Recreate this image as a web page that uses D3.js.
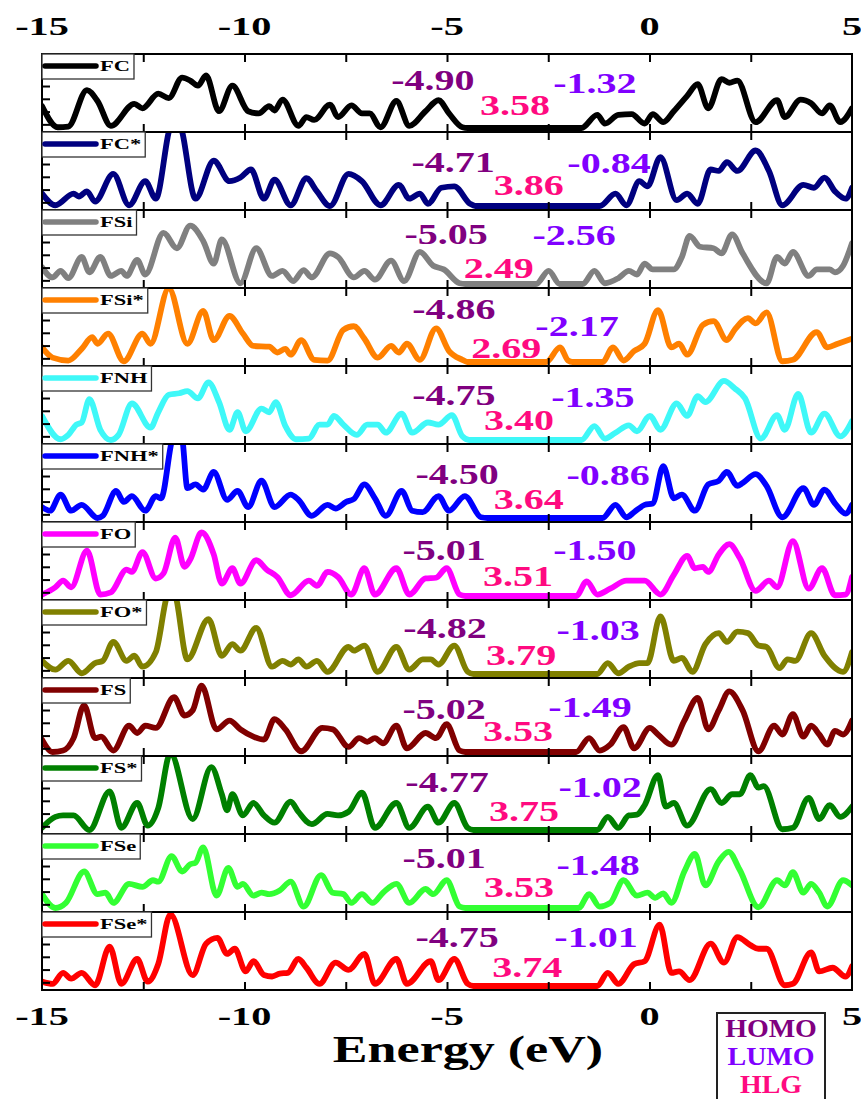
<!DOCTYPE html>
<html>
<head>
<meta charset="utf-8">
<script src="https://cdn.jsdelivr.net/npm/d3@7"></script>
<style>
  body { margin: 0; background: #fff; }
  svg { display: block; }
  text { font-family: "Liberation Serif", "Times New Roman", serif; font-weight: bold; }
</style>
</head>
<body>
<svg id="chart" width="861" height="1099"></svg>
<script>
// Total density of states (arb. units) against energy (eV) for each system
const dosFC = [[-15,3.0],[-14.61,0.1],[-14.35,0.2],[-13.89,5.2],[-13.63,3.7],[-13.30,0.3],[-12.72,3.3],[-12.52,2.7],[-12.13,4.7],[-11.87,4.1],[-11.54,6.9],[-11.34,6.5],[-11.15,5.8],[-10.95,7.2],[-10.63,2.3],[-10.30,5.8],[-9.91,2.3],[-9.65,2.0],[-9.39,3.0],[-9.26,2.4],[-9.06,3.9],[-8.67,0.3],[-8.47,1.5],[-8.28,1.1],[-7.89,3.2],[-7.69,1.5],[-7.36,3.1],[-7.10,2.0],[-6.91,2.0],[-6.64,0.1],[-6.25,3.7],[-5.93,0.3],[-5.53,2.3],[-5.21,3.8],[-4.95,2.0],[-4.62,0.1],[-4.49,0],[-1.68,0],[-1.29,1.8],[-1.10,0.6],[-0.77,1.8],[-0.44,1.9],[-0.12,0.6],[0.08,1.9],[0.34,0.8],[0.60,2.3],[0.93,4.4],[1.19,6.0],[1.45,2.7],[1.78,6.7],[1.97,6.2],[2.17,6.5],[2.62,0.8],[3.15,3.8],[3.34,1.5],[3.73,3.9],[3.99,3.4],[4.26,2.0],[4.45,3.1],[4.71,0.8],[5,2.7]];
const dosFCs = [[-15,1.7],[-14.67,0.1],[-14.22,1.7],[-14.09,1.3],[-13.89,2.0],[-13.69,0.6],[-13.24,4.4],[-12.85,0.1],[-12.45,3.4],[-12.19,1.0],[-11.8,11],[-11.61,11],[-11.21,1.0],[-10.76,6.2],[-10.37,3.4],[-10.10,3.9],[-9.84,5.0],[-9.52,1.0],[-9.26,3.6],[-8.86,0.1],[-8.47,3.8],[-8.21,2.0],[-7.89,0],[-7.43,4.4],[-7.10,3.4],[-6.64,0.1],[-6.19,2.9],[-5.93,1.0],[-5.67,1.7],[-5.47,0.3],[-5.14,2.5],[-4.82,2.7],[-4.43,0.3],[-4.30,0],[-1.23,0],[-0.84,1.7],[-0.57,0.1],[-0.25,3.4],[-0.05,2.7],[0.27,6.7],[0.67,0.8],[0.93,1.7],[1.19,0.3],[1.51,5.0],[1.71,4.8],[1.91,6.0],[2.17,4.8],[2.62,7.6],[2.95,4.8],[3.28,0.1],[3.80,2.9],[4.06,2.5],[4.32,3.9],[4.58,2.0],[4.84,1.0],[5,2.5]];
const dosFSi = [[-15,2.3],[-14.74,0.9],[-14.54,1.8],[-14.35,0.8],[-14.02,3.7],[-13.83,1.6],[-13.56,3.7],[-13.30,1.1],[-13.04,1.8],[-12.91,1.1],[-12.65,3.3],[-12.45,1.3],[-12.00,7.0],[-11.67,4.9],[-11.34,8.0],[-11.02,5.9],[-10.76,2.8],[-10.56,6.1],[-10.10,0.1],[-9.71,4.9],[-9.32,1.1],[-9.06,1.8],[-8.80,0.4],[-8.54,1.9],[-8.34,0.9],[-7.89,4.2],[-7.69,3.7],[-7.30,0.9],[-7.04,1.8],[-6.78,0.6],[-6.38,3.2],[-6.06,0.4],[-5.67,4.4],[-5.34,2.5],[-5.08,2.0],[-4.69,0.1],[-4.55,0],[-2.80,0],[-2.49,1.8],[-2.22,0],[-1.65,0],[-1.36,1.8],[-1.10,0.1],[-0.77,0.8],[-0.51,1.8],[-0.31,1.3],[-0.12,2.8],[0.08,2.0],[0.60,2.0],[0.80,3.7],[0.99,6.6],[1.25,5.1],[1.58,4.9],[1.78,4.2],[2.04,6.8],[2.30,4.2],[2.89,0.1],[3.15,3.7],[3.34,2.8],[3.54,4.4],[3.93,1.1],[4.13,2.0],[4.45,2.0],[4.58,1.6],[4.78,2.5],[5,5.6]];
const dosFSis = [[-15,2.0],[-14.74,0.6],[-14.35,0.2],[-14.02,1.8],[-13.76,3.4],[-13.63,2.5],[-13.37,3.9],[-12.98,0.1],[-12.52,3.9],[-12.32,2.5],[-11.87,10.1],[-11.41,2.5],[-11.02,7.0],[-10.76,3.0],[-10.37,6.3],[-10.04,3.9],[-9.78,2.2],[-9.39,2.1],[-9.19,1.3],[-8.99,1.8],[-8.86,1.0],[-8.60,3.0],[-8.28,0.3],[-7.95,0.2],[-7.56,4.4],[-7.30,4.9],[-7.04,3.2],[-6.71,0.6],[-6.38,2.2],[-6.19,1.3],[-5.99,2.5],[-5.67,0.3],[-5.27,4.6],[-4.95,1.5],[-4.62,0.3],[-4.5,0],[-2.55,0],[-2.21,2.0],[-2.01,0.2],[-1.90,0],[-1.16,0],[-0.90,2.0],[-0.64,0.2],[-0.38,1.5],[-0.12,2.5],[0.21,7.1],[0.54,2.0],[0.73,2.5],[0.93,1.0],[1.32,5.1],[1.58,5.6],[1.91,3.0],[2.10,4.4],[2.43,6.0],[2.62,5.3],[2.89,6.8],[3.28,0.1],[3.54,0.3],[4.13,4.1],[4.39,2.0],[4.65,2.5],[5,3.2]];
const dosFNH = [[-15,3.3],[-14.54,0.1],[-14.35,0.7],[-14.15,2.1],[-14.02,2.4],[-13.83,5.6],[-13.56,1.4],[-13.30,0],[-13.11,0.7],[-12.78,5.0],[-12.32,1.7],[-12.13,3.8],[-11.87,6.2],[-11.61,6.4],[-11.41,6.7],[-11.15,5.7],[-10.89,7.9],[-10.63,5.2],[-10.37,1.4],[-10.17,3.8],[-9.97,1.2],[-9.58,4.3],[-9.39,3.8],[-9.23,5.2],[-8.99,1.9],[-8.73,0.1],[-8.41,0.2],[-8.15,2.1],[-7.95,2.1],[-7.79,3.3],[-7.56,2.1],[-7.23,0.7],[-6.97,2.1],[-6.71,2.1],[-6.51,1.0],[-6.12,3.6],[-5.86,1.0],[-5.47,2.4],[-5.21,2.1],[-4.88,3.4],[-4.62,0.5],[-4.45,0],[-1.68,0],[-1.36,1.9],[-1.10,0.2],[-0.84,1.0],[-0.51,2.0],[-0.31,1.2],[0.01,3.3],[0.27,1.4],[0.67,5.0],[0.93,3.3],[1.19,6.0],[1.38,5.2],[1.84,8.1],[2.10,7.1],[2.36,5.7],[2.75,0.2],[3.15,3.4],[3.34,1.4],[3.67,6.3],[3.99,1.0],[4.32,3.6],[4.71,0.5],[5,2.6]];
const dosFNHs = [[-15,1.5],[-14.80,1.0],[-14.54,3.2],[-14.28,1.0],[-14.02,1.8],[-13.63,0],[-13.50,0.3],[-13.17,3.7],[-12.98,2.2],[-12.78,3.0],[-12.45,1.0],[-12.19,3.0],[-12.06,2.7],[-11.75,11],[-11.55,11],[-11.41,4.1],[-11.21,4.6],[-11.02,3.9],[-10.76,6.3],[-10.43,2.5],[-10.17,3.7],[-9.91,1.5],[-9.58,5.1],[-9.26,1.5],[-8.86,3.2],[-8.67,2.5],[-8.34,0.3],[-7.95,1.8],[-7.75,1.3],[-7.49,2.2],[-7.30,2.6],[-7.04,4.6],[-6.78,2.7],[-6.51,0.3],[-6.12,3.7],[-5.86,1.0],[-5.60,0.8],[-5.21,3.0],[-4.95,1.0],[-4.56,3.0],[-4.16,0.1],[-4.0,0],[-1.16,0],[-0.84,1.8],[-0.57,0.1],[-0.38,0.8],[-0.12,1.8],[0.08,2.0],[0.34,7.1],[0.60,2.7],[0.80,3.2],[1.12,1.0],[1.45,4.6],[1.71,5.1],[1.91,6.3],[2.17,4.4],[2.30,4.8],[2.62,6.0],[2.89,4.4],[3.28,0.1],[3.80,4.1],[4.06,1.8],[4.32,3.9],[4.58,2.0],[4.84,0.6],[5,1.8]];
const dosFO = [[-15,0.2],[-14.67,1.2],[-14.48,2.1],[-14.28,1.2],[-13.89,6.2],[-13.56,0.2],[-13.30,0.5],[-12.91,3.6],[-12.78,3.3],[-12.52,6.0],[-12.19,2.4],[-12.00,3.1],[-11.71,8.0],[-11.48,4.0],[-11.34,5.0],[-11.06,8.7],[-10.76,5.7],[-10.56,1.7],[-10.30,3.8],[-10.10,1.7],[-9.71,4.9],[-9.45,3.6],[-9.19,2.6],[-8.86,0.1],[-8.41,2.1],[-8.21,1.4],[-7.95,3.3],[-7.69,2.6],[-7.36,0.2],[-7.04,3.8],[-6.78,0.2],[-6.25,3.8],[-5.93,0.2],[-5.53,2.4],[-5.27,2.5],[-5.01,3.8],[-4.69,0.2],[-4.55,0],[-1.81,0],[-1.55,2.0],[-1.29,0.2],[-0.97,1.0],[-0.57,2.1],[-0.12,2.1],[0.27,0.2],[0.60,2.9],[0.93,5.5],[1.12,3.8],[1.32,4.0],[1.45,3.3],[1.71,5.7],[1.97,7.1],[2.23,5.2],[2.62,0.7],[2.95,2.1],[3.15,1.2],[3.54,7.5],[3.93,1.0],[4.26,3.8],[4.58,0.1],[4.84,0.2],[5,2.6]];
const dosFOs = [[-15,1.8],[-14.67,0.6],[-14.35,1.8],[-14.02,0.1],[-13.69,1.5],[-13.50,1.8],[-13.24,4.4],[-12.91,1.8],[-12.72,2.5],[-12.52,1.0],[-12.19,3.0],[-11.87,11],[-11.74,11],[-11.41,2.0],[-10.89,7.5],[-10.56,2.5],[-10.30,4.1],[-10.10,3.2],[-9.71,6.3],[-9.32,1.0],[-9.06,1.8],[-8.86,1.3],[-8.67,2.0],[-8.47,1.0],[-8.21,1.8],[-7.95,0.3],[-7.43,3.7],[-7.30,3.2],[-7.04,3.9],[-6.71,0.3],[-6.25,3.7],[-5.93,0.6],[-5.60,2.0],[-5.40,2.0],[-5.21,1.3],[-4.82,3.9],[-4.49,0.3],[-4.35,0],[-1.29,0],[-1.03,1.5],[-0.77,0.1],[-0.51,1.0],[-0.25,1.5],[-0.05,1.5],[0.27,7.9],[0.60,1.8],[0.80,2.2],[1.06,0.3],[1.38,4.1],[1.71,5.6],[1.91,4.4],[2.17,5.8],[2.43,5.6],[2.69,3.9],[2.89,3.7],[3.21,0.8],[3.41,2.0],[3.60,1.8],[3.99,5.6],[4.32,2.5],[4.78,0.3],[5,3.0]];
const dosFS = [[-15,1.7],[-14.74,0],[-14.48,0.2],[-14.22,1.9],[-13.96,6.4],[-13.69,1.9],[-13.54,2.1],[-13.24,0.2],[-12.85,3.6],[-12.65,2.6],[-12.45,3.6],[-12.19,3.3],[-11.74,7.5],[-11.48,5.0],[-11.28,5.7],[-11.06,9.1],[-10.69,3.1],[-10.37,4.3],[-10.10,3.1],[-9.78,2.1],[-9.52,1.7],[-9.26,4.5],[-8.99,3.1],[-8.60,0.1],[-8.08,3.3],[-7.82,3.1],[-7.43,0.7],[-7.17,1.9],[-6.97,1.4],[-6.78,1.9],[-6.58,1.2],[-6.25,3.6],[-5.99,0.5],[-5.53,2.6],[-5.27,1.9],[-5.01,3.8],[-4.69,0.2],[-4.55,0],[-1.81,0],[-1.49,1.9],[-1.23,0.2],[-0.97,1.0],[-0.64,3.4],[-0.38,0.5],[0.01,3.3],[0.21,2.4],[0.54,1.0],[0.86,4.3],[1.19,7.4],[1.45,3.1],[1.71,5.7],[1.97,8.3],[2.30,5.7],[2.69,0.1],[3.08,3.6],[3.28,2.4],[3.54,5.2],[3.80,2.1],[3.99,3.6],[4.19,2.4],[4.39,1.0],[4.58,2.9],[4.78,2.4],[5,4.3]];
const dosFSs = [[-15,0.3],[-14.67,1.8],[-14.48,2.0],[-14.22,2.0],[-13.83,0],[-13.33,5.3],[-13.04,0.3],[-12.65,3.7],[-12.39,0.6],[-12.13,3.0],[-11.83,10.5],[-11.28,1.5],[-10.82,8.6],[-10.56,4.9],[-10.43,2.7],[-10.30,4.9],[-10.04,2.0],[-9.78,3.7],[-9.52,2.0],[-9.26,1.0],[-8.86,3.9],[-8.67,2.5],[-8.34,0.8],[-7.95,2.2],[-7.69,2.0],[-7.43,2.5],[-7.10,5.1],[-6.78,0.3],[-6.25,3.7],[-5.93,0.3],[-5.47,3.2],[-5.21,1.0],[-4.82,3.7],[-4.49,0.3],[-4.35,0],[-1.29,0],[-1.03,1.8],[-0.77,0.3],[-0.51,2.0],[-0.31,2.1],[-0.12,3.4],[0.21,7.5],[0.40,3.2],[0.60,3.7],[0.93,0.6],[1.51,5.6],[1.78,3.7],[2.04,4.9],[2.23,4.9],[2.49,7.5],[2.69,5.8],[2.82,6.0],[3.28,0.1],[3.54,0.3],[3.93,4.4],[4.19,1.5],[4.45,3.4],[4.71,1.8],[5,3.2]];
const dosFSe = [[-15,1.9],[-14.67,0],[-14.41,0.7],[-13.96,5.0],[-13.63,1.9],[-13.43,2.1],[-13.24,0.7],[-12.85,3.3],[-12.52,2.9],[-12.26,3.8],[-12.13,3.6],[-11.80,7.1],[-11.54,5.0],[-11.34,6.0],[-11.21,6.2],[-11.02,8.3],[-10.69,1.7],[-10.40,5.5],[-10.17,2.9],[-10.04,3.3],[-9.78,1.7],[-9.58,2.1],[-9.39,1.9],[-9.13,2.4],[-8.86,3.6],[-8.54,0.2],[-8.11,4.5],[-7.82,2.1],[-7.56,1.9],[-7.36,0.7],[-7.10,1.9],[-6.84,0.7],[-6.58,2.1],[-6.25,3.3],[-5.93,0.7],[-5.53,2.6],[-5.34,1.9],[-5.01,3.8],[-4.69,0.2],[-4.55,0],[-1.75,0],[-1.49,1.9],[-1.23,0.2],[-0.97,0.7],[-0.64,3.8],[-0.31,1.7],[-0.05,2.1],[0.14,1.4],[0.34,2.0],[0.54,0.7],[0.86,5.0],[1.12,7.4],[1.38,3.1],[1.71,6.4],[1.95,7.7],[2.23,5.2],[2.69,0.1],[3.15,3.8],[3.34,3.1],[3.54,4.9],[3.80,2.1],[3.99,3.3],[4.19,2.1],[4.39,0.2],[4.78,3.8],[5,3.1]];
const dosFSes = [[-15,0.6],[-14.74,0.3],[-14.48,1.8],[-14.28,1.0],[-14.02,1.8],[-13.69,0.1],[-13.33,5.4],[-13.04,0.3],[-12.65,3.7],[-12.39,0.6],[-12.13,3.0],[-11.83,9.8],[-11.28,1.5],[-10.95,5.8],[-10.67,6.6],[-10.43,4.4],[-10.24,5.1],[-9.97,2.0],[-9.78,3.4],[-9.52,1.5],[-9.32,1.3],[-9.13,1.7],[-8.93,1.8],[-8.67,3.7],[-8.47,2.5],[-8.15,0.3],[-7.75,3.2],[-7.43,2.2],[-7.04,4.4],[-6.78,0.3],[-6.25,3.7],[-5.99,0.3],[-5.40,3.4],[-5.21,0.8],[-4.82,3.7],[-4.49,0.3],[-4.35,0],[-1.29,0],[-1.03,1.8],[-0.77,0.3],[-0.38,3.0],[-0.12,3.4],[0.25,8.4],[0.54,1.8],[0.73,2.0],[0.99,0.8],[1.51,5.8],[1.84,3.2],[2.17,6.7],[2.49,5.6],[2.69,5.1],[2.89,5.1],[3.34,0.1],[3.54,0.3],[3.99,4.6],[4.19,2.0],[4.52,2.5],[4.84,1.3],[5,2.7]];

const systems = ["FC", "FC*", "FSi", "FSi*", "FNH", "FNH*", "FO", "FO*", "FS", "FS*", "FSe", "FSe*"];
const dosSeries = [dosFC, dosFCs, dosFSi, dosFSis, dosFNH, dosFNHs, dosFO, dosFOs, dosFS, dosFSs, dosFSe, dosFSes];
const homoEnergies = [-4.90, -4.71, -5.05, -4.86, -4.75, -4.50, -5.01, -4.82, -5.02, -4.77, -5.01, -4.75];
const lumoEnergies = [-1.32, -0.84, -2.56, -2.17, -1.35, -0.86, -1.50, -1.03, -1.49, -1.02, -1.48, -1.01];
const gapEnergies  = [3.58, 3.86, 2.49, 2.69, 3.40, 3.64, 3.51, 3.79, 3.53, 3.75, 3.53, 3.74];
const energyTicks = [-15, -10, -5, 0, 5];
const innerTicks = [-12.5, -10, -7.5, -5, -2.5, 0, 2.5];
const dosTicks = [0.5, 2.25, 4, 5.75];
const keyLabels = ["HOMO", "LUMO", "HLG"];

// Styling
const lineColors = ["#000000", "#00007f", "#808080", "#ff8000", "#3ff8f8", "#0000ff",
                    "#ff00ff", "#808000", "#800000", "#008000", "#33ff33", "#ff0000"];
const homoColor = "#800080", lumoColor = "#8000ff", gapColor = "#ff0a80";
const keyColors = [homoColor, lumoColor, gapColor];

// Label placement (energy of text centre, baseline offset from the panel top)
const homoPlace = [[-5.35,36],[-4.85,40],[-5.02,34],[-4.83,31],[-4.83,39],[-4.75,40],[-5.07,38],[-5.05,38],[-5.07,41],[-5.00,36],[-5.07,34],[-4.75,35]];
const gapPlace  = [[-3.32,61],[-2.98,63],[-3.72,68],[-3.54,70],[-3.22,64],[-2.98,65],[-3.25,64],[-3.17,65],[-3.25,63],[-3.10,65],[-3.22,63],[-3.02,65]];
const lumoPlace = [[-1.35,39],[-1.00,41],[-1.86,35],[-1.79,48],[-1.40,41],[-1.02,41],[-1.35,38],[-1.27,40],[-1.47,39],[-1.22,41],[-1.27,41],[-1.32,35]];

const plotLeft = 42, plotRight = 852, plotTop = 54, panelH = 78;
const svg = d3.select("#chart");

const x = d3.scaleLinear().domain([-15, 5]).range([plotLeft, plotRight]);
const fmt = d3.format(".2f");
const signed = v => fmt(v).replace("\u2212", "-");

function stretchedText(g, str, cx, by, size, sx, color, anchor) {
  return g.append("text")
    .attr("transform", `translate(${cx},${by}) scale(${sx},1)`)
    .attr("text-anchor", anchor || "middle")
    .attr("font-size", size)
    .attr("fill", color || "#000")
    .text(str);
}

const defs = svg.append("defs");

systems.forEach((name, i) => {
  const top = plotTop + i * panelH;
  const y = d3.scaleLinear().domain([0, 10]).range([top + panelH - 4, top + 1]);
  const g = svg.append("g").attr("class", "panel");

  defs.append("clipPath").attr("id", "clip" + i)
    .append("rect").attr("x", plotLeft).attr("y", top)
    .attr("width", plotRight - plotLeft).attr("height", panelH);

  const line = d3.line().x(d => x(d[0])).y(d => y(d[1])).curve(d3.curveMonotoneX);
  g.append("path")
    .datum(dosSeries[i])
    .attr("clip-path", `url(#clip${i})`)
    .attr("fill", "none")
    .attr("stroke", lineColors[i])
    .attr("stroke-width", 5.8)
    .attr("stroke-linejoin", "round")
    .attr("stroke-linecap", "round")
    .attr("d", line);

  // inward ticks on all three sides
  const tickStyle = sel => {
    sel.select(".domain").remove();
    sel.selectAll(".tick line").attr("stroke", "#000").attr("stroke-width", 2);
  };
  g.append("g").attr("transform", `translate(0,${top + panelH})`)
    .call(d3.axisBottom(x).tickValues(innerTicks).tickSize(-8).tickFormat(""))
    .call(tickStyle);
  g.append("g").attr("transform", `translate(0,${top})`)
    .call(d3.axisTop(x).tickValues(innerTicks).tickSize(-8).tickFormat(""))
    .call(tickStyle);
  g.append("g").attr("transform", `translate(${plotLeft},0)`)
    .call(d3.axisLeft(y).tickValues(dosTicks).tickSize(-8).tickFormat(""))
    .call(tickStyle);

  g.append("rect")
    .attr("x", plotLeft).attr("y", top)
    .attr("width", plotRight - plotLeft).attr("height", panelH)
    .attr("fill", "none").attr("stroke", "#000").attr("stroke-width", 2);

  // legend tag
  const lg = g.append("g");
  const box = lg.append("rect")
    .attr("x", plotLeft).attr("y", top)
    .attr("height", 25).attr("fill", "#fff")
    .attr("stroke", "#333").attr("stroke-width", 1.3);
  lg.append("line")
    .attr("x1", plotLeft + 3).attr("x2", plotLeft + 54)
    .attr("y1", top + 12).attr("y2", top + 12)
    .attr("stroke", lineColors[i]).attr("stroke-width", 5.5)
    .attr("stroke-linecap", "round");
  const lab = stretchedText(lg, name, plotLeft + 58, top + 17, 15, 1.5, "#000", "start");
  const labW = lab.node().getComputedTextLength() * 1.5;
  box.attr("width", 58 + labW + 4);

  // HOMO / HLG / LUMO values
  stretchedText(g, signed(homoEnergies[i]), x(homoPlace[i][0]), top + homoPlace[i][1], 29, 1.38, homoColor);
  stretchedText(g, fmt(gapEnergies[i]), x(gapPlace[i][0]), top + gapPlace[i][1], 29, 1.38, gapColor);
  stretchedText(g, signed(lumoEnergies[i]), x(lumoPlace[i][0]), top + lumoPlace[i][1], 29, 1.38, lumoColor);
});

// energy tick labels, above and below the stack
const bottomEdge = plotTop + systems.length * panelH;
energyTicks.forEach(t => {
  stretchedText(svg, String(t), x(t), 35, 26, 1.55, "#000");
  stretchedText(svg, String(t), x(t), bottomEdge + 35, 26, 1.55, "#000");
});

stretchedText(svg, "Energy (eV)", 468, bottomEdge + 72, 38, 1.37, "#000");

// key for the value colours
const key = svg.append("g");
key.append("rect")
  .attr("x", 717).attr("y", bottomEdge + 23)
  .attr("width", 108).attr("height", 110)
  .attr("fill", "#fff").attr("stroke", "#222").attr("stroke-width", 2);
keyLabels.forEach((k, j) => {
  stretchedText(key, k, 771, bottomEdge + 47 + j * 28, 25, 1.12, keyColors[j]);
});
</script>
</body>
</html>
